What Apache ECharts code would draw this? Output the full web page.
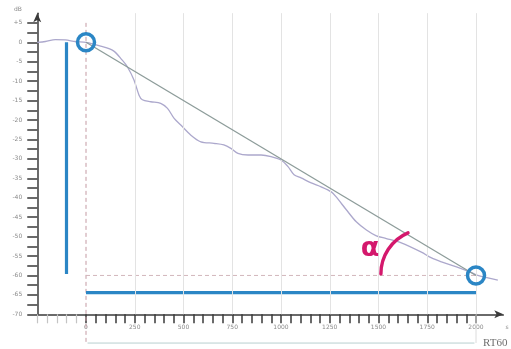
<!DOCTYPE html>
<html>
<head>
<meta charset="utf-8">
<script src="https://cdn.jsdelivr.net/npm/echarts@6/dist/echarts.min.js"></script>
<style>
  html, body { margin: 0; padding: 0; background: #ffffff; }
  #chart { width: 511px; height: 349px; }
</style>
</head>
<body>
<div id="chart"></div>
<script>
// Sound level decay after the source stops (time in ms, level in dB)
const decayTime = [-250, -208, -157, -105, -54, 0, 75, 141, 186, 212, 246, 272, 289, 332, 383, 418, 452,
  486, 538, 589, 656, 707, 743, 779, 831, 898, 949, 1000, 1036, 1067, 1103, 1155, 1206, 1258, 1283,
  1335, 1386, 1438, 1489, 1540, 1617, 1720, 1772, 1823, 1900, 1978, 2009, 2112];
const decayLevel = [0, 0.2, 0.7, 0.6, 0.2, 0, -1, -2.2, -4.6, -6.3, -9.7, -13.6, -14.8, -15.3, -15.7, -17,
  -19.6, -21.3, -23.9, -25.6, -26, -26.4, -27.3, -28.6, -29, -29, -29.4, -30.3, -32, -34.1, -34.9, -36.2,
  -37.2, -38.5, -39.8, -43.1, -46.2, -48.3, -49.8, -50.5, -51.6, -54, -55.5, -56.5, -57.8, -59.3, -60, -61.2];

// Straight-line fit of the decay from 0 dB down to -60 dB
const fitTime = [0, 2000];
const fitLevel = [0, -60];

// RT60 construction: start/end points, level drop and decay time markers
const rtStart = [0, 0];
const rtEnd = [2000, -60];
const dropMarkerTime = -100;
const dropMarkerLevel = [0, -59.6];
const timeMarkerLevel = -64.4;
const bracketLevel = -77.4;

// Axis ticks and labels
const xLabelValues = [0, 250, 500, 750, 1000, 1250, 1500, 1750, 2000];
const xLabelTexts = ['0', '250', '500', '750', '1000', '1250', '1500', '1750', '2000'];
const yLabelValues = [5, 0, -5, -10, -15, -20, -25, -30, -35, -40, -45, -50, -55, -60, -65, -70];
const yLabelTexts = ['+5', '0', '-5', '-10', '-15', '-20', '-25', '-30', '-35', '-40', '-45', '-50', '-55', '-60', '-65', '-70'];

const xMin = -250, xMax = 2140, yMin = -70, yMax = 7.5;

// tick positions: every 50 ms, every 2.5 dB
const xTicksMain = [], xTicksPre = [], yTicks = [];
for (let v = 0; v <= 2000; v += 50) xTicksMain.push(v);
for (let v = -250; v < 0; v += 50) xTicksPre.push(v);
for (let v = 5; v >= -70; v -= 2.5) yTicks.push(v);

const zip = (xs, ys) => xs.map((x, i) => [x, ys[i]]);
const BLUE = '#2b86c5';

const chart = echarts.init(document.getElementById('chart'), null, { renderer: 'canvas' });

const plainLine = (data, style, extra) => Object.assign({
  type: 'line', data: data, symbol: 'none', silent: true, clip: false,
  animation: false, lineStyle: style, z: 2
}, extra || {});

chart.setOption({
  animation: false,
  backgroundColor: '#ffffff',
  grid: { left: 37.25, right: 7.7, top: 13.15, bottom: 34.7 },
  xAxis: [
    {
      type: 'value', min: xMin, max: xMax, position: 'bottom',
      axisLine: { show: true, onZero: false, symbol: ['none', 'arrow'], symbolSize: [6, 9],
        lineStyle: { color: '#3a3a3a', width: 1.5 } },
      axisTick: { show: true, customValues: xTicksMain, length: 9, inside: false,
        lineStyle: { color: '#3a3a3a', width: 1.5 } },
      axisLabel: { show: true, customValues: xLabelValues, margin: 10,
        fontSize: 6, color: '#8a8a8a', fontFamily: 'DejaVu Sans',
        formatter: v => xLabelTexts[xLabelValues.indexOf(v)] || '' },
      splitLine: { show: false }
    },
    {
      type: 'value', min: xMin, max: xMax, position: 'bottom',
      axisLine: { show: false, onZero: false },
      axisTick: { show: true, customValues: xTicksPre, length: 9,
        lineStyle: { color: '#c4c4c4', width: 1.2 } },
      axisLabel: { show: false },
      splitLine: { show: false }
    }
  ],
  yAxis: {
    type: 'value', min: yMin, max: yMax,
    axisLine: { show: true, onZero: false, symbol: ['none', 'arrow'], symbolSize: [6, 9],
      lineStyle: { color: '#3a3a3a', width: 1.5 } },
    axisTick: { show: true, customValues: yTicks, length: 10,
      lineStyle: { color: '#3a3a3a', width: 1.5 } },
    axisLabel: { show: true, customValues: yLabelValues, margin: 15,
      fontSize: 6, color: '#8a8a8a', fontFamily: 'DejaVu Sans',
      formatter: v => yLabelTexts[yLabelValues.indexOf(v)] || '' },
    splitLine: { show: false }
  },
  series: [
    // vertical grid lines every 250 ms
    {
      type: 'line', data: [], silent: true, animation: false, z: 1,
      markLine: {
        silent: true, symbol: 'none', animation: false,
        label: { show: false },
        lineStyle: { color: '#e3e3e3', width: 1, type: 'solid' },
        data: xLabelValues.filter(v => v > 0).map(v => ({ xAxis: v }))
      }
    },
    // 2000 ms line carried below the axis to the bracket
    plainLine([[rtEnd[0], yMin], [rtEnd[0], bracketLevel]], { color: '#dcdcdc', width: 1 }),
    // dashed reference lines through the start time and the -60 dB level
    plainLine([[rtStart[0], 5], [rtStart[0], bracketLevel]], { color: '#c49aa3', width: 1, type: [4, 3] }),
    plainLine([[rtStart[0], rtEnd[1]], [rtEnd[0], rtEnd[1]]], { color: '#d2b6bb', width: 1, type: [4, 3] }),
    // RT60 span bracket
    plainLine([[rtStart[0] + 8, bracketLevel], [rtEnd[0] - 8, bracketLevel]], { color: '#b8cfcf', width: 1 }),
    // level drop and decay time markers
    plainLine([[dropMarkerTime, dropMarkerLevel[0]], [dropMarkerTime, dropMarkerLevel[1]]],
      { color: BLUE, width: 3.2, cap: 'butt' }, { z: 3 }),
    plainLine([[rtStart[0], timeMarkerLevel], [rtEnd[0], timeMarkerLevel]],
      { color: BLUE, width: 3.2, cap: 'butt' }, { z: 3 }),
    // measured decay
    plainLine(zip(decayTime, decayLevel), { color: '#aca8cc', width: 1.3 }, { smooth: 0.3, z: 4 }),
    // straight-line fit
    plainLine(zip(fitTime, fitLevel), { color: '#8d9c9a', width: 1.3 }, { z: 5 }),
    // start and end points
    {
      type: 'scatter', data: [rtStart, rtEnd], symbol: 'circle', symbolSize: 17,
      silent: true, animation: false, z: 6,
      itemStyle: { color: 'rgba(255,255,255,0)', borderColor: BLUE, borderWidth: 3.5, opacity: 1 }
    }
  ]
});

// decay angle annotation, anchored to the data space
const arcCenter = chart.convertToPixel({ xAxisIndex: 0, yAxisIndex: 0 }, [1741, -59.6]);
const alphaPos = chart.convertToPixel({ xAxisIndex: 0, yAxisIndex: 0 }, [1456, -53.2]);

chart.setOption({
  graphic: [
    {
      type: 'arc', silent: true, z: 10,
      shape: { cx: arcCenter[0], cy: arcCenter[1], r: 44.6, startAngle: Math.PI, endAngle: 4.31, clockwise: true },
      style: { stroke: '#d4186c', lineWidth: 3.4, fill: null, lineCap: 'round' }
    },
    {
      type: 'text', silent: true, z: 10, x: alphaPos[0], y: alphaPos[1],
      style: { text: 'α', fontSize: 27, fontWeight: 'bold', fontFamily: 'DejaVu Sans',
        fill: '#d4186c', align: 'center', verticalAlign: 'middle' }
    },
    {
      type: 'text', silent: true, x: 18, y: 9,
      style: { text: 'dB', fontSize: 6, fill: '#8a8a8a', fontFamily: 'DejaVu Sans', align: 'center', verticalAlign: 'middle' }
    },
    {
      type: 'text', silent: true, x: 507, y: 327,
      style: { text: 's', fontSize: 6, fill: '#8a8a8a', fontFamily: 'DejaVu Sans', align: 'center', verticalAlign: 'middle' }
    },
    {
      type: 'text', silent: true, x: 483, y: 343.5,
      style: { text: 'RT60', fontSize: 11, fill: '#6f6f6f', fontFamily: 'Liberation Serif', align: 'left', verticalAlign: 'middle' }
    }
  ]
});
</script>
</body>
</html>
